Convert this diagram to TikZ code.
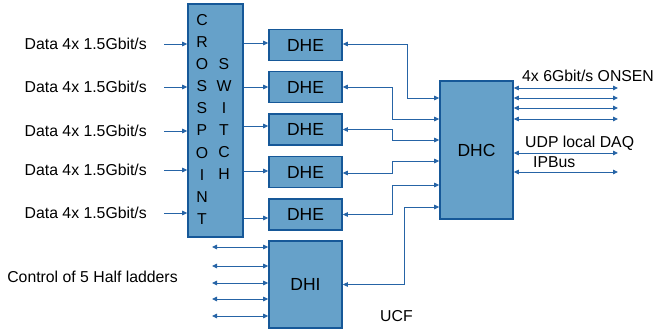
\documentclass[tikz,border=0pt]{standalone}
\usepackage{fontspec}
\setmainfont{Liberation Sans}
\usetikzlibrary{arrows.meta}
\definecolor{boxfill}{RGB}{102,161,201}
\definecolor{boxline}{RGB}{22,88,152}
\definecolor{wire}{RGB}{38,100,166}
\tikzset{
  blk/.style={draw=boxline, fill=boxfill, line width=1.6pt, inner sep=0pt},
  blktext/.style={font=\fontsize{17.5}{20}\selectfont},
  lbl/.style={font=\fontsize{15.8}{18}\selectfont, inner sep=0pt},
  letter/.style={font=\fontsize{15.8}{18}\selectfont, inner sep=0pt},
  arr/.style={draw=wire, line width=0.9pt, -{Triangle[length=5pt,width=4.5pt]}},
  darr/.style={draw=wire, line width=0.9pt, {Triangle[length=5pt,width=4.5pt]}-{Triangle[length=5pt,width=4.5pt]}}
}
\begin{document}
\begin{tikzpicture}[x=1pt,y=-1pt]
\useasboundingbox (0,0) rectangle (655,334);
% crosspoint switch
\node[blk, minimum width=55pt, minimum height=233pt] (xp) at (215.5,120.5) {};
\foreach \l [count=\i from 0] in {C,R,O,S,S,P,O,I,N,T}
  \node[letter] (cl\i) at (202,{20+22.1*\i}) {\l};
\foreach \l [count=\i from 0] in {S,W,I,T,C,H}
  \node[letter] (cr\i) at (224,{64+22.1*\i}) {\l};
% DHE boxes
\foreach \y [count=\i] in {45,87,129.5,172,214.5}
  \node[blk, blktext, minimum width=73pt, minimum height=31pt] (dhe\i) at (305.5,\y) {DHE};
% DHI
\node[blk, blktext, minimum width=73pt, minimum height=87pt] (dhi) at (305.5,284.5) {DHI};
% DHC
\node[blk, blktext, minimum width=73pt, minimum height=138pt] (dhc) at (476.5,150) {DHC};
% data labels and inputs
\foreach \y [count=\i] in {44,87,131,170,213}{
  \node[lbl, anchor=east] (d\i) at (147,\y) {Data 4x 1.5Gbit/s};
  \coordinate (ds\i) at (164,\y);
  \draw[arr] (ds\i) -- (xp.west |- ds\i);
}
% crosspoint to DHE
\foreach \y [count=\i] in {43,87,126,171,218}{
  \coordinate (xo\i) at (243,\y);
  \draw[arr] (xp.east |- xo\i) -- (dhe\i.west |- xo\i);
}
% control lines
\node[lbl] (ctl) at (92.5,277) {Control of 5 Half ladders};
\foreach \y [count=\i] in {247,266,283,299,316}{
  \coordinate (cs\i) at (212,\y);
  \draw[darr] (cs\i) -- (dhi.west |- cs\i);
}
% DHE -> DHC
\draw[darr] (dhe1.east |- 0,44) -| (407,98) -- (dhc.west |- 0,98);
\draw[darr] (dhe2.east) -| (392,119) -- (dhc.west |- 0,119);
\draw[darr] (dhe3.east) -| (392,140) -- (dhc.west |- 0,140);
\draw[darr] (dhe4.east |- 0,173) -| (392,161) -- (dhc.west |- 0,161);
\draw[darr] (dhe5.east) -| (392,185) -- (dhc.west |- 0,185);
\draw[darr] (dhi.east) -| (404,207) -- (dhc.west |- 0,207);
% outputs
\foreach \y [count=\i] in {88,98,108,119,153,172}{
  \coordinate (oe\i) at (618,\y);
  \draw[darr] (dhc.east |- oe\i) -- (oe\i);
}
\node[lbl, anchor=west] (onsen) at (522,76) {4x 6Gbit/s ONSEN};
\node[lbl, anchor=west] (udp) at (525,143) {UDP local DAQ};
\node[lbl, anchor=west] (ipbus) at (533,162) {IPBus};
\node[lbl, anchor=west] (ucf) at (380,316) {UCF};
\end{tikzpicture}
\end{document}
